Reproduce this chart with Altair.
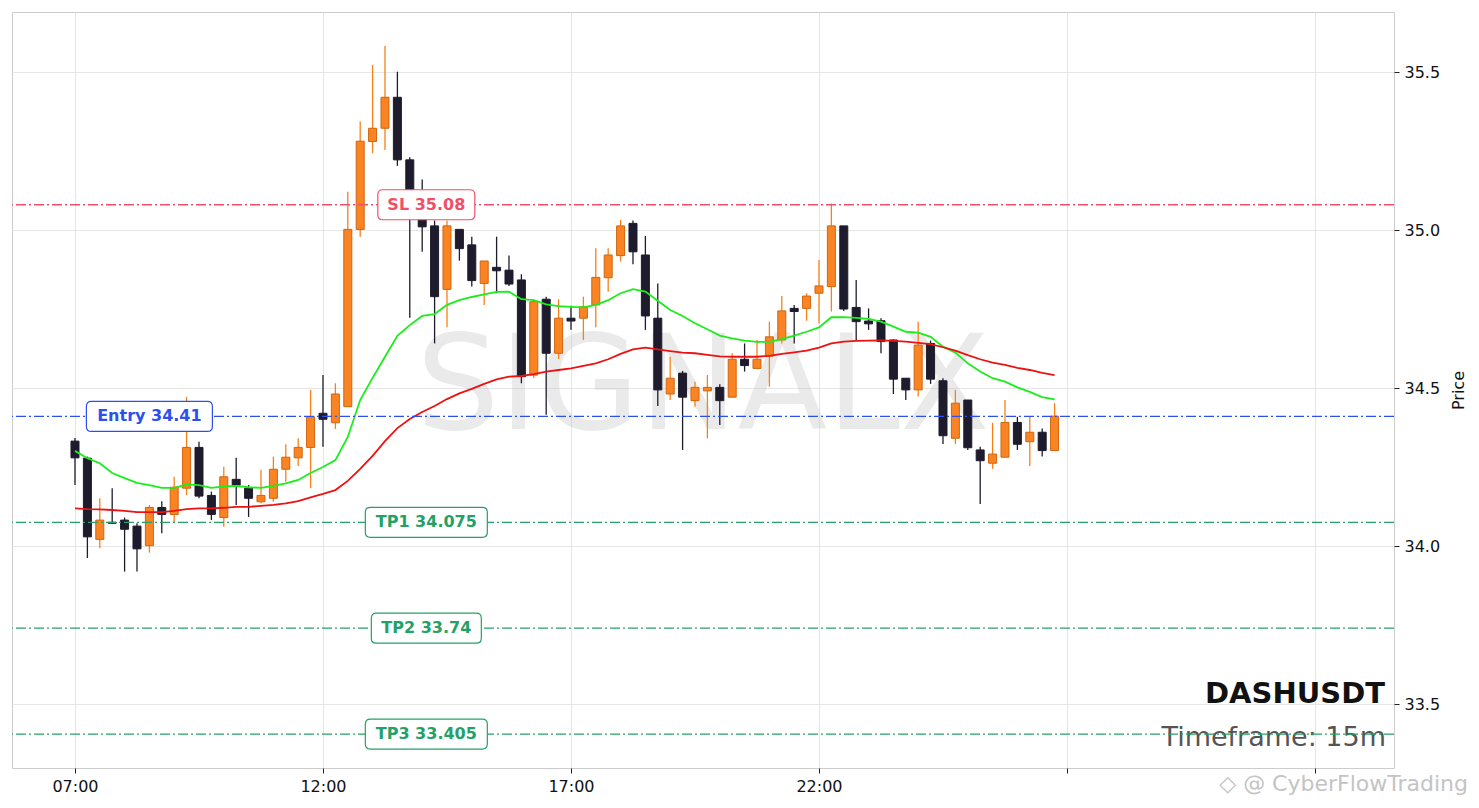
import altair as alt
import pandas as pd

# ---------------- data ----------------
opens = [34.332, 34.278, 34.021, 34.075, 34.082, 34.063, 34.001, 34.122, 34.100, 34.183,
         34.312, 34.160, 34.090, 34.211, 34.183, 34.140, 34.151, 34.243, 34.279, 34.312,
         34.420, 34.390, 34.441, 35.002, 35.280, 35.322, 35.420, 35.222, 35.060, 35.013,
         34.812, 35.002, 34.953, 34.831, 34.882, 34.873, 34.842, 34.541, 34.781, 34.610,
         34.721, 34.721, 34.763, 34.849, 34.919, 35.021, 34.921, 34.721, 34.481, 34.547,
         34.460, 34.491, 34.502, 34.471, 34.591, 34.562, 34.601, 34.652, 34.752, 34.752,
         34.800, 34.821, 35.013, 34.755, 34.712, 34.713, 34.652, 34.531, 34.494, 34.641,
         34.523, 34.341, 34.462, 34.304, 34.262, 34.281, 34.391, 34.330, 34.360, 34.302]
highs = [34.342, 34.283, 34.151, 34.183, 34.090, 34.072, 34.130, 34.142, 34.219, 34.472,
         34.330, 34.172, 34.251, 34.279, 34.193, 34.241, 34.283, 34.322, 34.341, 34.494,
         34.541, 34.515, 35.121, 35.343, 35.522, 35.582, 35.501, 35.230, 35.160, 35.030,
         35.030, 35.002, 34.979, 34.902, 34.979, 34.919, 34.860, 34.780, 34.789, 34.781,
         34.760, 34.789, 34.942, 34.942, 35.032, 35.030, 34.981, 34.831, 34.599, 34.554,
         34.520, 34.541, 34.512, 34.610, 34.641, 34.652, 34.710, 34.791, 34.763, 34.800,
         34.905, 35.084, 35.013, 34.842, 34.752, 34.721, 34.654, 34.531, 34.710, 34.650,
         34.531, 34.494, 34.462, 34.314, 34.390, 34.462, 34.409, 34.411, 34.372, 34.452]
lows = [34.193, 33.962, 33.993, 34.070, 33.919, 33.919, 33.979, 34.040, 34.072, 34.161,
        34.151, 34.082, 34.061, 34.130, 34.092, 34.135, 34.140, 34.203, 34.253, 34.183,
        34.314, 34.370, 34.440, 34.979, 35.243, 35.253, 35.203, 34.722, 34.931, 34.641,
        34.692, 34.903, 34.821, 34.763, 34.800, 34.823, 34.515, 34.532, 34.415, 34.592,
        34.684, 34.652, 34.692, 34.805, 34.900, 34.892, 34.684, 34.443, 34.462, 34.304,
        34.441, 34.341, 34.383, 34.471, 34.552, 34.562, 34.504, 34.641, 34.641, 34.713,
        34.705, 34.742, 34.744, 34.652, 34.684, 34.610, 34.481, 34.462, 34.473, 34.513,
        34.323, 34.323, 34.304, 34.133, 34.244, 34.281, 34.304, 34.253, 34.283, 34.302]
closes = [34.279, 34.029, 34.082, 34.072, 34.053, 33.991, 34.122, 34.100, 34.186, 34.312,
          34.158, 34.100, 34.219, 34.193, 34.151, 34.160, 34.243, 34.281, 34.312, 34.409,
          34.401, 34.481, 35.002, 35.281, 35.322, 35.420, 35.222, 35.095, 35.010, 34.789,
          35.013, 34.941, 34.840, 34.902, 34.871, 34.829, 34.536, 34.773, 34.610, 34.721,
          34.712, 34.757, 34.850, 34.921, 35.013, 34.931, 34.728, 34.494, 34.531, 34.471,
          34.502, 34.502, 34.460, 34.591, 34.571, 34.591, 34.662, 34.744, 34.742, 34.791,
          34.823, 35.013, 34.750, 34.710, 34.703, 34.647, 34.528, 34.494, 34.636, 34.528,
          34.349, 34.452, 34.311, 34.270, 34.291, 34.391, 34.322, 34.360, 34.302, 34.411]
ema_fast = [34.301, 34.278, 34.262, 34.231, 34.215, 34.200, 34.193, 34.184, 34.184, 34.195,
            34.193, 34.184, 34.189, 34.190, 34.186, 34.184, 34.190, 34.198, 34.209, 34.231,
            34.250, 34.272, 34.345, 34.462, 34.532, 34.599, 34.665, 34.699, 34.728, 34.734,
            34.763, 34.778, 34.788, 34.796, 34.804, 34.805, 34.781, 34.778, 34.765, 34.759,
            34.757, 34.755, 34.763, 34.778, 34.800, 34.813, 34.805, 34.776, 34.747, 34.728,
            34.705, 34.686, 34.666, 34.657, 34.650, 34.646, 34.646, 34.655, 34.666, 34.678,
            34.692, 34.724, 34.724, 34.722, 34.719, 34.710, 34.694, 34.678, 34.675, 34.662,
            34.631, 34.612, 34.578, 34.552, 34.531, 34.520, 34.502, 34.488, 34.471, 34.464]
ema_slow = [34.119, 34.117, 34.116, 34.114, 34.111, 34.107, 34.107, 34.107, 34.111, 34.117,
            34.119, 34.119, 34.121, 34.124, 34.124, 34.127, 34.130, 34.135, 34.142, 34.154,
            34.165, 34.177, 34.206, 34.244, 34.285, 34.332, 34.373, 34.402, 34.424, 34.443,
            34.465, 34.483, 34.497, 34.513, 34.527, 34.536, 34.538, 34.544, 34.552, 34.557,
            34.562, 34.570, 34.578, 34.591, 34.608, 34.622, 34.628, 34.622, 34.617, 34.612,
            34.610, 34.605, 34.600, 34.599, 34.599, 34.599, 34.602, 34.608, 34.613, 34.618,
            34.628, 34.641, 34.647, 34.649, 34.650, 34.651, 34.649, 34.647, 34.643, 34.639,
            34.629, 34.618, 34.604, 34.591, 34.580, 34.573, 34.564, 34.557, 34.548, 34.541]

level_names = ["SL", "Entry", "TP1", "TP2", "TP3"]
level_prices = [35.08, 34.41, 34.075, 33.74, 33.405]
level_texts = ["SL 35.08", "Entry 34.41", "TP1 34.075", "TP2 33.74", "TP3 33.405"]
level_label_times = ["2024-01-01T14:05:00", "2024-01-01T08:30:00", "2024-01-01T14:05:00",
                     "2024-01-01T14:05:00", "2024-01-01T14:05:00"]

symbol_name = "DASHUSDT"
timeframe_text = "Timeframe: 15m"
watermark = "SIGNALX"
credit_text = "◇ @ CyberFlowTrading"

# ---------------- styling ----------------
ORANGE, ORANGE_EDGE, ORANGE_WICK = "#fa8423", "#d0650c", "#f78019"
DARK = "#1e1b2d"
GREEN_LINE, RED_LINE = "#1aee1a", "#ee1111"
level_colors = {"SL": "#ef5067", "Entry": "#2c50ef", "TP1": "#24a166", "TP2": "#24a166", "TP3": "#24a166"}
box_widths = {"SL": 97, "Entry": 126, "TP1": 122, "TP2": 110, "TP3": 122}
FONT = "DejaVu Sans"

times = pd.date_range("2024-01-01 07:00", periods=len(opens), freq="15min")
df = pd.DataFrame({
    "t": times.strftime("%Y-%m-%dT%H:%M:%S"),
    "open": opens, "high": highs, "low": lows, "close": closes,
    "ema_fast": ema_fast, "ema_slow": ema_slow,
})
df["dir"] = ["up" if c >= o else "down" for o, c in zip(opens, closes)]

xscale = alt.Scale(domain=[alt.DateTime(year=2024, month=1, date=1, hours=5, minutes=43, seconds=48),
                           alt.DateTime(year=2024, month=1, date=2, hours=9, minutes=35, seconds=35)],
                   nice=False, padding=0)
yscale = alt.Scale(domain=[33.2975, 35.6899], nice=False, zero=False, padding=0)

tick_vals = [alt.DateTime(year=2024, month=1, date=1, hours=h) for h in (7, 12, 17, 22)] + \
            [alt.DateTime(year=2024, month=1, date=2, hours=h) for h in (3, 8)]
xaxis = alt.Axis(values=tick_vals, format="%H:%M", title=None,
                 labelExpr="date(datum.value) == 2 ? '' : datum.label")
yaxis = alt.Axis(orient="right", values=[33.5, 34.0, 34.5, 35.0, 35.5], format=".1f",
                 title="Price", titleAngle=270, titlePadding=27)


def X(field="t"):
    return alt.X(f"{field}:T", scale=xscale, axis=xaxis)


def Y(field):
    return alt.Y(f"{field}:Q", scale=yscale, axis=yaxis)


base = alt.Chart(df)

wm = alt.Chart(pd.DataFrame({"a": [0]})).mark_text(
    text=watermark, font=FONT, fontSize=131, color="#bbbbbb", opacity=0.3,
    align="center", baseline="middle").encode(x=alt.value(691), y=alt.value(378))

wicks = base.mark_rule(strokeWidth=1.3).encode(
    x=X(), y=Y("low"), y2="high",
    color=alt.Color("dir:N", scale=alt.Scale(domain=["up", "down"], range=[ORANGE_WICK, DARK]), legend=None))

bodies = base.mark_bar(width=8, strokeWidth=1).encode(
    x=X(), y=Y("open"), y2="close",
    fill=alt.Fill("dir:N", scale=alt.Scale(domain=["up", "down"], range=[ORANGE, DARK]), legend=None),
    stroke=alt.Stroke("dir:N", scale=alt.Scale(domain=["up", "down"], range=[ORANGE_EDGE, DARK]), legend=None))

fast = base.mark_line(color=GREEN_LINE, strokeWidth=1.8).encode(x=X(), y=Y("ema_fast"))
slow = base.mark_line(color=RED_LINE, strokeWidth=1.8).encode(x=X(), y=Y("ema_slow"))

lv = pd.DataFrame({"name": level_names, "price": level_prices, "text": level_texts,
                   "lt": level_label_times})
lv["color"] = [level_colors[n] for n in level_names]

hlines = alt.Chart(lv).mark_rule(strokeDash=[10, 3, 2, 3], strokeWidth=1.3).encode(
    y=Y("price"), color=alt.Color("color:N", scale=None))


def rbox(W, H, R):
    s = W / 2.0
    hw, hh, r = 1.0, H / W, R / s
    return (f"M{-hw + r:.4f},{-hh:.4f}L{hw - r:.4f},{-hh:.4f}Q{hw:.4f},{-hh:.4f},{hw:.4f},{-hh + r:.4f}"
            f"L{hw:.4f},{hh - r:.4f}Q{hw:.4f},{hh:.4f},{hw - r:.4f},{hh:.4f}L{-hw + r:.4f},{hh:.4f}"
            f"Q{-hw:.4f},{hh:.4f},{-hw:.4f},{hh - r:.4f}L{-hw:.4f},{-hh + r:.4f}"
            f"Q{-hw:.4f},{-hh:.4f},{-hw + r:.4f},{-hh:.4f}Z")


label_layers = []
for i, n in enumerate(level_names):
    row = lv.iloc[[i]]
    c = level_colors[n]
    W = box_widths[n]
    box = alt.Chart(row).mark_point(
        shape=rbox(W, 30, 5), size=W * W, filled=True, fill="white", stroke=c,
        strokeWidth=1.2, opacity=1, fillOpacity=1, strokeOpacity=1).encode(x=X("lt"), y=Y("price"))
    txt = alt.Chart(row).mark_text(
        font=FONT, fontSize=16, fontWeight="bold", color=c, align="center", baseline="middle"
    ).encode(x=X("lt"), y=Y("price"), text="text:N")
    label_layers += [box, txt]

one = pd.DataFrame({"a": [0]})
sym = alt.Chart(one).mark_text(text=symbol_name, font=FONT, fontSize=29, fontWeight="bold",
                               color="#111111", align="right", baseline="alphabetic").encode(
    x=alt.value(1373), y=alt.value(691))
tf = alt.Chart(one).mark_text(text=timeframe_text, font=FONT, fontSize=27, color="#555555",
                              align="right", baseline="alphabetic").encode(
    x=alt.value(1374), y=alt.value(734))
credit = alt.Chart(one).mark_text(text=credit_text, font=FONT, fontSize=22, color="#c4c4c4",
                                  align="right", baseline="alphabetic").encode(
    x=alt.value(1456), y=alt.value(779))

chart = alt.layer(
    wm, wicks, bodies, fast, slow, tf, sym, hlines, *label_layers, credit
).properties(
    width=1382, height=756,
    autosize=alt.AutoSizeParams(type="none"),
    padding={"left": 4, "top": 4, "right": 76, "bottom": 28},
).configure_view(
    stroke="#cccccc", strokeWidth=1
).configure_axis(
    grid=True, gridColor="#e6e6e6", gridWidth=1, domain=False,
    tickColor="#222222", tickSize=5, tickWidth=1,
    labelFont=FONT, labelFontSize=16, labelColor="#111111", labelPadding=5,
    titleFont=FONT, titleFontSize=16, titleFontWeight="normal", titleColor="#111111",
)

chart.save("out.html", embed_options={"renderer": "svg", "actions": False})
